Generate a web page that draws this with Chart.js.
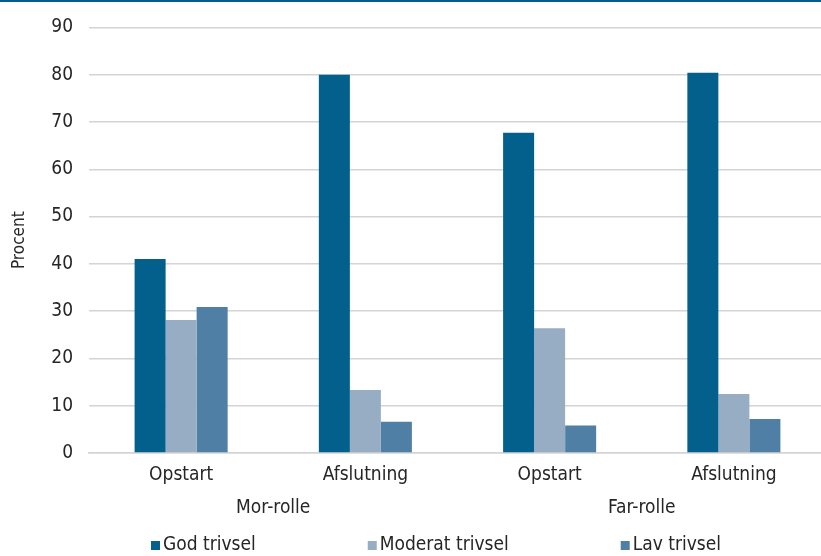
<!DOCTYPE html>
<html>
<head>
<meta charset="utf-8">
<script src="https://cdn.jsdelivr.net/npm/chart.js@4.4.1/dist/chart.umd.min.js"></script>
<style>
  html, body { margin: 0; padding: 0; background: #fff; }
  #wrap { width: 821px; height: 556px; overflow: hidden; position: relative; }
  #box { width: 826px; height: 556px; }
</style>
</head>
<body>
<div id="wrap"><div id="box"><canvas id="chart"></canvas></div></div>
<script>
const categories = ["Opstart", "Afslutning", "Opstart", "Afslutning"];
const groups = ["Mor-rolle", "Far-rolle"];
const godTrivsel = [41.0, 80.0, 67.7, 80.4];
const moderatTrivsel = [28.1, 13.3, 26.4, 12.5];
const lavTrivsel = [30.9, 6.6, 5.8, 7.2];
const yTicks = [0, 10, 20, 30, 40, 50, 60, 70, 80, 90];

const FONT = "'Liberation Sans Narrow', 'DejaVu Sans Condensed', 'Roboto', sans-serif";
const TEXT = "#262626";

// thin header rule + custom legend drawn below the axes
const decor = {
  id: "decor",
  beforeDraw(chart) {
    const c = chart.ctx;
    c.save();
    c.fillStyle = "#005f8a";
    c.fillRect(0, 0, chart.width, 2);
    c.restore();
  },
  afterDraw(chart) {
    const c = chart.ctx;
    c.save();
    c.font = "19px " + FONT;
    c.textBaseline = "middle";
    let x = 151;
    const y = 545;
    chart.data.datasets.forEach(ds => {
      c.fillStyle = ds.backgroundColor;
      c.fillRect(x, y - 4, 9, 9);
      c.fillStyle = TEXT;
      c.fillText(ds.label, x + 12, y);
      x += 12 + c.measureText(ds.label).width + 112;
    });
    c.restore();
  }
};

new Chart(document.getElementById("chart"), {
  type: "bar",
  data: {
    labels: categories,
    datasets: [
      { label: "God trivsel", data: godTrivsel, backgroundColor: "#03608c" },
      { label: "Moderat trivsel", data: moderatTrivsel, backgroundColor: "#97adc4" },
      { label: "Lav trivsel", data: lavTrivsel, backgroundColor: "#4f7fa5" }
    ]
  },
  options: {
    responsive: true,
    maintainAspectRatio: false,
    animation: false,
    layout: { padding: { top: 20, right: 0, bottom: 37, left: 0 } },
    datasets: { bar: { categoryPercentage: 0.505, barPercentage: 1.0, borderWidth: 0 } },
    plugins: { legend: { display: false }, tooltip: { enabled: false } },
    scales: {
      y: {
        min: 0,
        max: 90,
        afterBuildTicks: s => { s.ticks = yTicks.map(v => ({ value: v })); },
        afterFit: s => { s.width = 89; },
        grid: { color: "#d4d4d4", lineWidth: 1.5, drawTicks: false },
        border: { display: false },
        ticks: { color: TEXT, font: { family: FONT, size: 19 }, padding: 16 },
        title: { display: true, text: "Procent", color: TEXT, font: { family: FONT, size: 17 }, padding: { top: 9, bottom: 0 } }
      },
      x: {
        weight: 0,
        afterFit: s => { s.height = 36; },
        grid: { display: false },
        border: { display: true, color: "#d4d4d4", width: 1.5 },
        ticks: { color: TEXT, font: { family: FONT, size: 19 }, padding: 3, maxRotation: 0 }
      },
      x2: {
        type: "category",
        position: "bottom",
        weight: 1,
        labels: groups,
        afterFit: s => { s.height = 30; },
        grid: { display: false },
        border: { display: false },
        ticks: { color: TEXT, font: { family: FONT, size: 19 }, padding: 0, maxRotation: 0 }
      }
    }
  },
  plugins: [decor]
});
</script>
</body>
</html>
